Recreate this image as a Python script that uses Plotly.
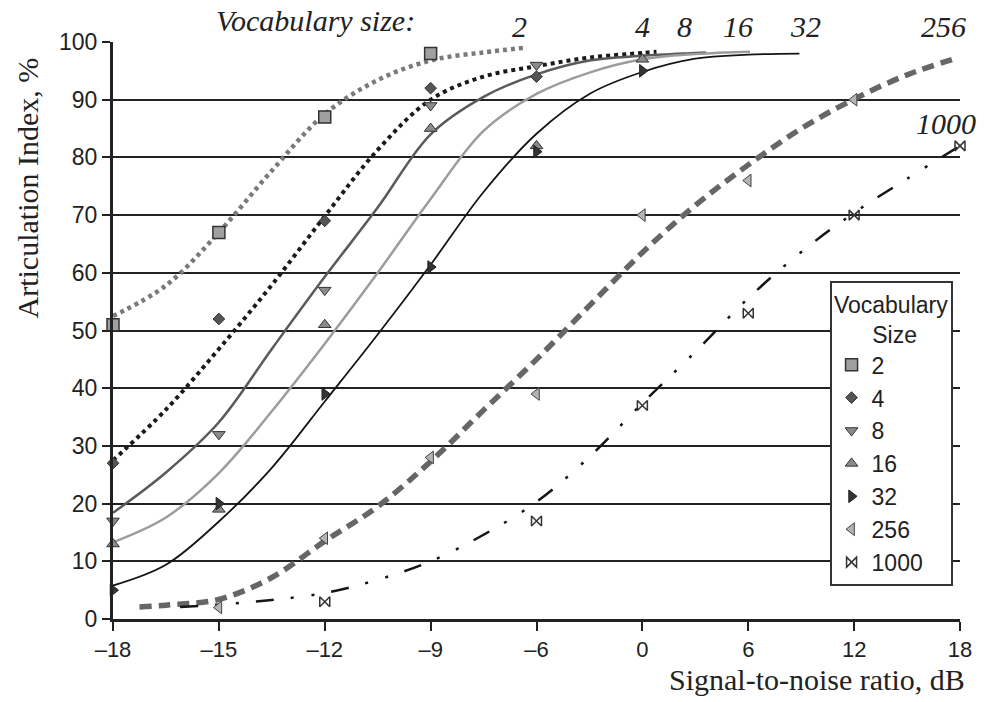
import plotly.graph_objects as go

# ---------------- axis ticks ----------------
TICK_DB = [-18, -15, -12, -9, -6, 0, 6, 12, 18]
TICK_TEXT = ["–18", "–15", "–12", "–9", "–6", "0", "6", "12", "18"]
Y_TICKS = [0, 10, 20, 30, 40, 50, 60, 70, 80, 90, 100]

# ---------------- measured points (SNR dB, articulation %) ----------------
vocab_names = ["2", "4", "8", "16", "32", "256", "1000"]

m2_x = [-18, -15, -12, -9]
m2_y = [51, 67, 87, 98]
m4_x = [-18, -15, -12, -9, -6]
m4_y = [27, 52, 69, 92, 94]
m8_x = [-18, -15, -12, -9, -6]
m8_y = [17, 32, 57, 89, 96]
m16_x = [-18, -15, -12, -9, -6, 0]
m16_y = [13, 19, 51, 85, 82, 97]
m32_x = [-18, -15, -12, -9, -6, 0]
m32_y = [5, 20, 39, 61, 81, 95]
m256_x = [-15, -12, -9, -6, 0, 6, 12]
m256_y = [2, 14, 28, 39, 70, 76, 90]
m1000_x = [-12, -6, 0, 6, 12, 18]
m1000_y = [3, 17, 37, 53, 70, 82]

# ---------------- fitted curves ----------------
c2_x = [-18, -16.5, -15, -13.5, -12, -10.5, -9, -7.5, -6.33]
c2_y = [52.5, 57.8, 67, 77.7, 87.5, 93.4, 96.8, 98.2, 99]
c4_x = [-18, -16.5, -15, -13.5, -12, -10.5, -9, -7.5, -6, -3, 0, 0.8]
c4_y = [27.5, 36.3, 46.8, 57.9, 69.8, 81.3, 90, 94, 95.8, 97.3, 98.1, 98.3]
c8_x = [-18, -16.5, -15, -13.5, -12, -10.5, -9, -7.5, -6, -3, 0, 3, 3.6]
c8_y = [18.4, 25.4, 34.1, 46.8, 59.3, 71.3, 84, 90.5, 94.4, 96.8, 97.6, 98.1, 98.2]
c16_x = [-18, -16.5, -15, -13.5, -12, -10.5, -9, -7.5, -6, -3, 0, 3, 6.1]
c16_y = [13.3, 17.6, 25.3, 36, 47.7, 60, 72.8, 84.6, 91, 94.7, 97, 97.9, 98.3]
c32_x = [-18, -16.5, -15, -13.5, -12, -10.5, -9, -7.5, -6, -3, 0, 3, 6, 8.9]
c32_y = [5.8, 9.4, 16.9, 26.2, 37.7, 49.3, 61.4, 74, 84.1, 91, 94.8, 97.1, 97.8, 98]
c256_x = [-17.25, -16.5, -15, -13.5, -12, -10.5, -9, -7.5, -6, -3, 0, 3, 6, 9, 12, 15, 17.8]
c256_y = [2.1, 2.4, 3.4, 7.2, 13.5, 19.5, 27.3, 36.2, 45, 54.3, 63.5, 71.7, 78.7, 85, 90.1, 94.3, 97.2]
c1000_x = [-16.1, -15, -13.5, -12, -10.5, -9, -7.5, -6, -3, 0, 3, 6, 9, 12, 15, 18]
c1000_y = [2.1, 2.5, 3.3, 4.5, 6.8, 10, 14.6, 20.3, 28.1, 37.4, 46.3, 55.6, 63.6, 70.4, 76.3, 82]


def snr_pos(db):
    """Axis scale of the original: 3 dB per division up to -6 dB, 6 dB per division above."""
    return (db + 18) / 3 if db <= -6 else 4 + (db + 6) / 6


def pos_list(xs):
    return [snr_pos(v) for v in xs]


SERIF = "Liberation Serif, Times New Roman, serif"
SANS = "Liberation Sans, Arial, sans-serif"
INK = "#222222"

curves = [
    (c2_x, c2_y, dict(color="#7a7a7a", width=4.5, dash="4px,4px")),
    (c4_x, c4_y, dict(color="#1a1a1a", width=4, dash="4px,4px")),
    (c8_x, c8_y, dict(color="#5a5a5a", width=2.5)),
    (c16_x, c16_y, dict(color="#9c9c9c", width=2.5)),
    (c32_x, c32_y, dict(color="#151515", width=1.8)),
    (c256_x, c256_y, dict(color="#666666", width=5.5, dash="12px,7px")),
    (c1000_x, c1000_y, dict(color="#151515", width=2.5, dash="18px,17px,3px,18px,3px,17px")),
]

markers = [
    (m2_x, m2_y, dict(symbol="square", size=12, color="#a0a0a0", line=dict(color="#333", width=1.5))),
    (m4_x, m4_y, dict(symbol="diamond", size=9, color="#555555", line=dict(color="#333", width=1))),
    (m8_x, m8_y, dict(symbol="triangle-down", size=11, color="#8a8a8a", line=dict(color="#333", width=1))),
    (m16_x, m16_y, dict(symbol="triangle-up", size=11, color="#8a8a8a", line=dict(color="#333", width=1))),
    (m32_x, m32_y, dict(symbol="triangle-right", size=11, color="#333333", line=dict(color="#222", width=1))),
    (m256_x, m256_y, dict(symbol="triangle-left", size=11, color="#b4b4b4", line=dict(color="#444", width=1))),
    (m1000_x, m1000_y, dict(symbol="bowtie-open", size=10, color="#333333", line=dict(color="#333", width=1.5))),
]

fig = go.Figure()

for (xs, ys, ln) in curves:
    fig.add_trace(go.Scatter(
        x=pos_list(xs), y=ys, mode="lines", line=dict(shape="spline", smoothing=1.0, **ln),
        showlegend=False, hoverinfo="skip"))

for name, (xs, ys, mk) in zip(vocab_names, markers):
    fig.add_trace(go.Scatter(
        x=pos_list(xs), y=ys, mode="markers", name=name, marker=mk,
        cliponaxis=False, legendgroup=name))

annotations = [
    dict(text="<i>Vocabulary size:</i>", x=0.2394, y=1.038),
    dict(text="<i>2</i>", x=0.480, y=1.026),
    dict(text="<i>4</i>", x=0.6256, y=1.026),
    dict(text="<i>8</i>", x=0.675, y=1.026),
    dict(text="<i>16</i>", x=0.738, y=1.026),
    dict(text="<i>32</i>", x=0.818, y=1.026),
    dict(text="<i>256</i>", x=0.980, y=1.026),
    dict(text="<i>1000</i>", x=0.9836, y=0.8596),
]
for a in annotations:
    fig.add_annotation(xref="paper", yref="paper", showarrow=False,
                       xanchor="center", yanchor="middle",
                       font=dict(family=SERIF, size=30, color=INK), **a)

fig.add_annotation(text="Articulation Index, %", xref="paper", yref="paper",
                   x=-0.0998, y=0.747, textangle=-90, showarrow=False,
                   xanchor="center", yanchor="middle",
                   font=dict(family=SERIF, size=30, color=INK))
fig.add_annotation(text="Signal-to-noise ratio, dB", xref="paper", yref="paper",
                   x=1.0082, y=-0.1057, showarrow=False,
                   xanchor="right", yanchor="middle",
                   font=dict(family=SERIF, size=30, color=INK))

fig.update_layout(
    width=984, height=702,
    margin=dict(l=113, r=19, t=42, b=83, pad=0),
    plot_bgcolor="white", paper_bgcolor="white",
    font=dict(family=SANS, color=INK),
    xaxis=dict(range=[0, 8], tickmode="array",
               tickvals=[snr_pos(v) for v in TICK_DB], ticktext=TICK_TEXT,
               showgrid=False, zeroline=False, showline=True, linecolor=INK, linewidth=2.5,
               ticks="outside", ticklen=9, tickwidth=2, tickcolor=INK,
               tickfont=dict(family=SANS, size=22, color=INK)),
    yaxis=dict(range=[0, 100], tickmode="array", tickvals=Y_TICKS,
               showgrid=True, gridcolor=INK, gridwidth=2, zeroline=False,
               showline=True, linecolor=INK, linewidth=3,
               ticks="outside", ticklen=8, tickwidth=2, tickcolor=INK,
               tickfont=dict(family=SANS, size=23, color=INK)),
    legend=dict(x=0.846, y=0.585, xanchor="left", yanchor="top",
                bgcolor="white", bordercolor="#333", borderwidth=2,
                font=dict(family=SANS, size=23, color=INK),
                title=dict(text="Vocabulary<br>\u00a0\u00a0\u00a0\u00a0\u00a0\u00a0Size", side="top center",
                           font=dict(family=SANS, size=23, color=INK)),
                traceorder="normal"),
)

fig.write_html("out.html")
